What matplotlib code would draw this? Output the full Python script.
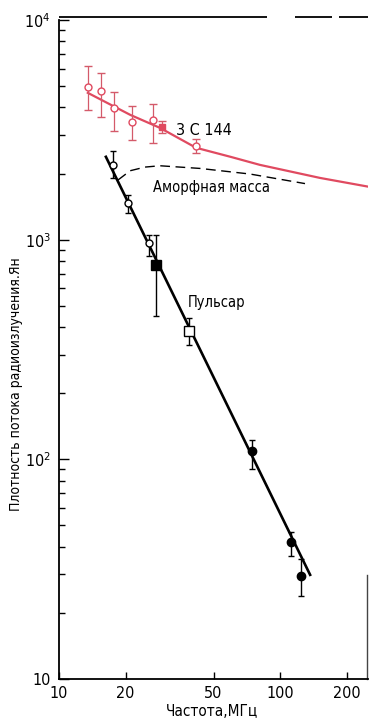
import numpy as np
import matplotlib
matplotlib.use("Agg")
import matplotlib.pyplot as plt
from matplotlib.ticker import FixedLocator, NullFormatter, LogLocator

# ---- data ----
# 3C 144 (red) measurements
src_freq = [13.5, 15.5, 17.7, 21.4, 26.6, 41.7]
src_flux = [4950, 4750, 3980, 3430, 3500, 2670]
src_lo = [3890, 3620, 3130, 2850, 2750, 2480]
src_hi = [6180, 5740, 4700, 4060, 4150, 2880]
src_sq_freq = [29.3]
src_sq_flux = [3260]
src_sq_lo = [3050]
src_sq_hi = [3480]
# 3C 144 fitted curve
src_fit_freq = [13.5, 21.0, 28.6, 41.7, 60.0, 81.1, 151.7, 253]
src_fit_flux = [4660, 3700, 3230, 2620, 2380, 2190, 1910, 1740]
# amorphous mass (dashed)
amo_freq = [18.5, 21.0, 24.5, 28.6, 43.5, 73.1, 129.7]
amo_flux = [1870, 2060, 2140, 2170, 2110, 1990, 1800]
# pulsar points
psr_oc_freq = [17.5, 20.5, 25.5]
psr_oc_flux = [2190, 1470, 966]
psr_oc_lo = [1910, 1325, 843]
psr_oc_hi = [2535, 1600, 1052]
psr_fs_freq = [27.5]
psr_fs_flux = [767]
psr_fs_lo = [450]
psr_fs_hi = [1052]
psr_os_freq = [38.7]
psr_os_flux = [385]
psr_os_lo = [332]
psr_os_hi = [441]
psr_fc_freq = [74.6, 112, 124.5]
psr_fc_flux = [109, 42.2, 29.5]
psr_fc_lo = [90.6, 36.4, 23.9]
psr_fc_hi = [123, 46.8, 35.2]
# pulsar fitted line
psr_fit_freq = [16.3, 136.8]
psr_fit_flux = [2383, 29.8]

x_ticks = [10, 20, 50, 100, 200]
x_labels = ["10", "20", "50", "100", "200"]
y_ticks = [10, 100, 1000, 10000]
y_labels = ["10", r"$\mathregular{10^2}$", r"$\mathregular{10^3}$", r"$\mathregular{10^4}$"]

RED = "#e04a60"
RED_E = "#d45a6a"

W, H = 369, 721
fig = plt.figure(figsize=(W / 100, H / 100), dpi=100)
ax = fig.add_axes([59 / W, 1 - 679 / H, 309 / W, 659 / H])
ax.set_xscale("log")
ax.set_yscale("log")
ax.set_xlim(10, 250)
ax.set_ylim(10, 10000)

FONT = dict(family="DejaVu Sans", stretch="condensed")


def yerr(v, lo, hi):
    v = np.array(v, float)
    return [v - np.array(lo, float), np.array(hi, float) - v]


# red
ax.plot(src_fit_freq, src_fit_flux, color=RED, lw=1.6, zorder=2)
ax.errorbar(src_freq, src_flux, yerr=yerr(src_flux, src_lo, src_hi), fmt="o",
            mfc="white", mec=RED, mew=1.0, ms=5, ecolor=RED_E, elinewidth=0.9,
            capsize=3, capthick=0.9, zorder=3)
ax.errorbar(src_sq_freq, src_sq_flux, yerr=yerr(src_sq_flux, src_sq_lo, src_sq_hi), fmt="s",
            mfc=RED, mec=RED, ms=4, ecolor=RED_E, elinewidth=0.9, capsize=3, zorder=3)

# dashed amorphous mass
ax.plot(amo_freq, amo_flux, color="black", lw=1.0, ls=(0, (7, 4)), zorder=2)

# pulsar
ax.plot(psr_fit_freq, psr_fit_flux, color="black", lw=1.9, zorder=2)
ax.errorbar(psr_oc_freq, psr_oc_flux, yerr=yerr(psr_oc_flux, psr_oc_lo, psr_oc_hi), fmt="o",
            mfc="white", mec="black", mew=1.0, ms=5, ecolor="black", elinewidth=1.0,
            capsize=2.5, capthick=1.0, zorder=3)
ax.errorbar(psr_fs_freq, psr_fs_flux, yerr=yerr(psr_fs_flux, psr_fs_lo, psr_fs_hi), fmt="s",
            mfc="black", mec="black", ms=6.5, ecolor="black", elinewidth=1.0,
            capsize=2.5, capthick=1.0, zorder=3)
ax.errorbar(psr_os_freq, psr_os_flux, yerr=yerr(psr_os_flux, psr_os_lo, psr_os_hi), fmt="s",
            mfc="white", mec="black", mew=1.0, ms=6.5, ecolor="black", elinewidth=1.0,
            capsize=2.5, capthick=1.0, zorder=3)
ax.errorbar(psr_fc_freq, psr_fc_flux, yerr=yerr(psr_fc_flux, psr_fc_lo, psr_fc_hi), fmt="o",
            mfc="black", mec="black", ms=6, ecolor="black", elinewidth=1.0,
            capsize=2.5, capthick=1.0, zorder=3)

# annotations
ax.text(33.8, 3130, "3 C 144", ha="left", va="center", fontsize=11.5, **FONT)
ax.text(26.6, 1720, "Аморфная масса", ha="left", va="center", fontsize=10.5, **FONT)
ax.text(38.4, 515, "Пульсар", ha="left", va="center", fontsize=10.5, **FONT)

# axes styling
for s in ["top", "right"]:
    ax.spines[s].set_visible(False)
for s in ["left", "bottom"]:
    ax.spines[s].set_linewidth(1.3)

ax.xaxis.set_major_locator(FixedLocator(x_ticks))
ax.set_xticklabels(x_labels, fontsize=11.5, **FONT)
ax.xaxis.set_minor_locator(FixedLocator([]))
ax.yaxis.set_major_locator(FixedLocator(y_ticks))
ax.set_yticklabels(y_labels, fontsize=11.5, **FONT)
ax.yaxis.set_minor_locator(LogLocator(base=10, subs=np.arange(2, 10)))
ax.yaxis.set_minor_formatter(NullFormatter())
ax.tick_params(axis="x", which="major", direction="in", length=5, width=1.0, pad=5)
ax.tick_params(axis="y", which="major", direction="in", length=7, width=1.0, pad=6)
ax.tick_params(axis="y", which="minor", direction="in", length=4, width=1.0)

# broken top frame and partial right frame (as in the scan)
for x0, x1 in [(0, 0.673), (0.764, 0.883), (0.906, 1.0)]:
    ax.plot([x0, x1], [1.004, 1.004], transform=ax.transAxes, color="black",
            lw=1.3, clip_on=False, solid_capstyle="butt")
ax.plot([0.997, 0.997], [0, 0.158], transform=ax.transAxes, color="#444444",
        lw=1.0, clip_on=False)

fig.text(212 / W, 1 - 712 / H, "Частота,МГц", ha="center", va="center", fontsize=11, **FONT)
fig.text(16 / W, 1 - 384 / H, "Плотность потока радиоизлучения.Ян", ha="center",
         va="center", rotation=90, fontsize=10, **FONT)

fig.savefig("out.png", dpi=100)
